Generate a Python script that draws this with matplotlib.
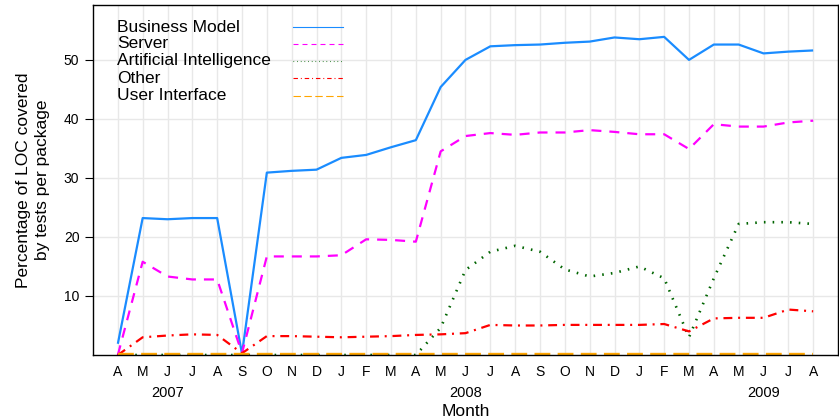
import numpy as np
from matplotlib import pyplot as plt
from matplotlib.lines import Line2D

plt.rcParams['font.family'] = ['Liberation Sans', 'DejaVu Sans']

# months from Apr 2007 to Aug 2009
months = ['A', 'M', 'J', 'J', 'A', 'S', 'O', 'N', 'D',
          'J', 'F', 'M', 'A', 'M', 'J', 'J', 'A', 'S', 'O', 'N', 'D',
          'J', 'F', 'M', 'A', 'M', 'J', 'J', 'A']
years = ['2007', '2008', '2009']
year_month_idx = [2, 14, 26]   # year label sits under June

business_model = [1.9, 23.2, 23.0, 23.2, 23.2, 0.2, 30.9, 31.2, 31.4, 33.4, 33.9, 35.2, 36.4,
                  45.4, 50.0, 52.3, 52.5, 52.6, 52.9, 53.1, 53.8, 53.5, 53.9, 50.0,
                  52.6, 52.6, 51.1, 51.4, 51.6]
server = [0.0, 15.8, 13.3, 12.8, 12.8, 0.3, 16.7, 16.7, 16.7, 16.9, 19.6, 19.5, 19.2,
          34.5, 37.1, 37.6, 37.3, 37.7, 37.7, 38.1, 37.8, 37.4, 37.4, 34.9,
          39.1, 38.7, 38.7, 39.4, 39.7]
artificial_intelligence = [0.0, 0.0, 0.0, 0.0, 0.0, 0.0, 0.0, 0.0, 0.0, 0.0, 0.0, 0.0, 0.0,
                           4.6, 14.4, 17.5, 18.5, 17.5, 14.5, 13.3, 13.9, 15.0, 13.0, 3.0,
                           13.0, 22.2, 22.5, 22.5, 22.2]
other = [0.0, 3.0, 3.3, 3.5, 3.4, 0.3, 3.2, 3.2, 3.1, 3.0, 3.1, 3.2, 3.4,
         3.5, 3.7, 5.1, 5.0, 5.0, 5.1, 5.1, 5.1, 5.1, 5.25, 4.0,
         6.2, 6.3, 6.3, 7.7, 7.4]
user_interface = [0.2] * len(months)

series = [
    ('Business Model', business_model, '#1a8cff', None, 1.6),
    ('Server', server, 'magenta', (0, (4.5, 3.6)), 1.6),
    ('Artificial Intelligence', artificial_intelligence, '#006400', (0, (0.6, 2.7)), 1.9),
    ('Other', other, 'red', (0, (4.0, 2.6, 0.9, 2.6)), 1.6),
    ('User Interface', user_interface, 'orange', (0, (6.7, 3.1)), 1.7),
]

fig = plt.figure(figsize=(8.39, 4.18), dpi=100)
ax = fig.add_axes([93 / 839, 1 - 355 / 418, 745 / 839, 350 / 418])

x = np.arange(len(months))
for name, vals, col, ls, lw in series:
    ax.plot(x, vals, color=col, lw=lw, linestyle=ls if ls else '-',
            solid_capstyle='butt', dash_capstyle='butt')

ax.set_xlim(-1, len(months))
ax.set_ylim(0, 59.3)
ax.set_xticks(x, months)
ax.set_yticks([10, 20, 30, 40, 50])
ax.grid(True, color='#e8e8e8', lw=1)
ax.set_axisbelow(True)
ax.tick_params(axis='x', length=0, pad=7, labelsize=10)
ax.tick_params(axis='y', length=5.8, pad=4, labelsize=10, right=True, direction='out')
for sp in ax.spines.values():
    sp.set_linewidth(1)

sec = ax.secondary_xaxis('bottom')
sec.set_xticks(year_month_idx, years)
sec.tick_params(length=0, pad=22, labelsize=10.5)
sec.spines['bottom'].set_visible(False)
sec.set_xlabel('Month', fontsize=12.5, labelpad=3)

ax.set_ylabel('Percentage of LOC covered\nby tests per package', fontsize=12.5, labelpad=10,
              linespacing=1.3)

# legend: labels on the left, samples in a column on the right
row_y = [27.3, 43.7, 61.0, 78.3, 95.7]
for (name, vals, col, ls, lw), ry in zip(series, row_y):
    yy = (355 - ry) / 350
    ax.text(24 / 745, yy, name, transform=ax.transAxes, fontsize=12.5,
            ha='left', va='center')
    ax.add_line(Line2D([200 / 745, 250 / 745], [yy, yy], transform=ax.transAxes,
                       color=col, lw=0.8, linestyle=ls if ls else '-'))

fig.savefig('out.png', dpi=100)
